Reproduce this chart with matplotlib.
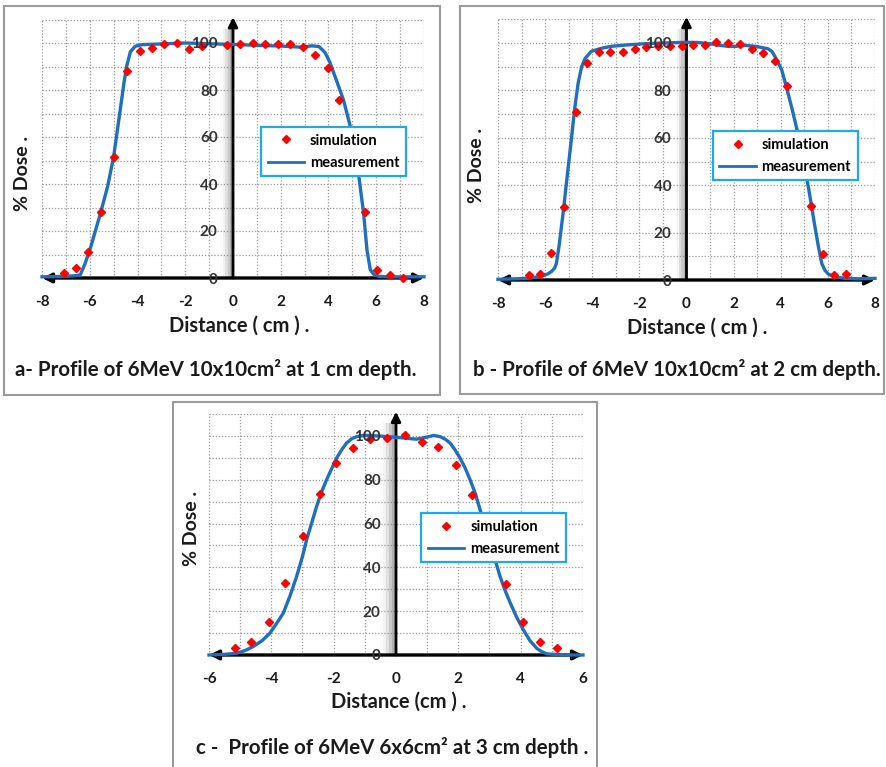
import matplotlib
matplotlib.use('Agg')
import matplotlib.pyplot as plt
from matplotlib.lines import Line2D
from matplotlib.patches import Rectangle
import numpy as np

plt.rcParams['font.family'] = ['Lato', 'DejaVu Sans']
plt.rcParams['axes.unicode_minus'] = False

# ---- panel a : 6MeV 10x10 at 1 cm ----
a_meas_x = [-8, -7, -6.6, -6.4, -6.2, -5.95, -5.55, -5.25, -5.0, -4.8, -4.57, -4.46, -4.3, -4.1, -3.8,
            -3.0, -2.0, -1.0, 0.0, 1.0, 2.0, 2.9, 3.3, 3.6, 3.85, 4.05, 4.3, 4.63, 4.85, 5.05, 5.2,
            5.35, 5.47, 5.61, 5.75, 5.9, 6.1, 6.5, 7.0, 8.0]
a_meas_y = [0.5, 0.7, 1.0, 1.3, 6, 13.5, 27.6, 39, 51.6, 66, 82.7, 89.8, 96.2, 98.6, 99.3,
            99.6, 100, 99.7, 99.4, 99.0, 98.7, 98.2, 98.8, 98.5, 96, 92, 85, 75.7, 67, 58.7, 49,
            37, 27.6, 12, 3.5, 1.5, 0.7, 0.5, 0.5, 0.5]
a_sim_x = [-7.09, -6.56, -6.08, -5.52, -4.97, -4.44, -3.91, -3.39, -2.87, -2.34, -1.83, -1.30,
           -0.25, 0.28, 0.82, 1.35, 1.88, 2.40, 2.93, 3.44, 3.96, 4.46, 5.54, 6.05, 6.58, 7.11]
a_sim_y = [2.1, 4.2, 11, 27.9, 51.6, 88.1, 96.5, 97.9, 99.4, 100, 97.5, 98.6,
           99.3, 99.7, 100, 99.7, 99.7, 99.4, 98.3, 94.8, 89.5, 75.7, 28, 3.3, 1.4, 0]

# ---- panel b : 6MeV 10x10 at 2 cm ----
b_meas_x = [-8, -7.3, -6.73, -6.2, -5.9, -5.74, -5.6, -5.52, -5.4, -5.24, -5.05, -4.89, -4.75, -4.6,
            -4.45, -4.3, -4.04, -3.6, -3.19, -2.5, -1.77, -1.0, 0, 0.5, 1.06, 1.4, 1.77, 2.1, 2.48,
            3.0, 3.47, 3.62, 3.75, 4.04, 4.25, 4.46, 4.7, 4.89, 5.17, 5.45, 5.6, 5.74, 5.88, 6.02,
            6.3, 6.73, 7.3, 8]
b_meas_y = [0.3, 0.5, 0.7, 1.5, 2.5, 3.5, 5, 7, 15, 28, 45, 59, 72, 83,
            90, 93.5, 96.5, 97.8, 98.6, 99.2, 99.7, 100, 100.3, 100.2, 99.6, 99, 98.6, 98.6, 99,
            98.5, 97.5, 96.5, 94.4, 88.7, 81, 73, 63, 53.5, 39.4, 22.5, 14, 7, 4, 2.5,
            1.3, 0.7, 0.5, 0.7]
b_sim_x = [-6.70, -6.20, -5.74, -5.21, -4.70, -4.21, -3.73, -3.23, -2.69, -2.20, -1.70, -1.20,
           -0.71, -0.21, 0.28, 0.78, 1.27, 1.77, 2.27, 2.76, 3.26, 3.75, 4.28, 5.27, 5.81, 6.26, 6.77]
b_sim_y = [2.1, 2.5, 11.5, 31, 71, 91.5, 96, 96, 96.2, 97.5, 98.2, 98.6,
           98.6, 98.6, 99.3, 99.3, 100.3, 100, 99.7, 97.5, 95.8, 92.5, 81.8, 31.3, 10.8, 2.1, 2.4]

# ---- panel c : 6MeV 6x6 at 3 cm ----
c_meas_x = [-6, -5.5, -5.12, -4.85, -4.59, -4.3, -4.05, -3.85, -3.62, -3.4, -3.19, -3.0, -2.87, -2.7,
            -2.55, -2.4, -2.23, -2.05, -1.91, -1.75, -1.59, -1.42, -1.26, -1.05, -0.84, -0.4, 0,
            0.35, 0.66, 0.95, 1.2, 1.41, 1.58, 1.74, 1.9, 2.06, 2.22, 2.38, 2.55, 2.70, 2.86, 3.02,
            3.18, 3.34, 3.5, 3.67, 3.88, 4.09, 4.3, 4.52, 4.68, 4.84, 5.2, 5.6, 6]
c_meas_y = [0, 0.3, 0.8, 2, 3.8, 6.5, 9.9, 14, 19, 27, 35.8, 45, 52.5, 60.5,
            67.7, 74, 79.9, 85.5, 89.8, 93.5, 96.7, 98.7, 99.7, 100.2, 100.2, 99.8, 99.4,
            98.9, 98.5, 99.3, 100.2, 99.7, 98.5, 96.7, 93.5, 89.8, 85.3, 79.9, 73.5, 66.2, 58.5, 51,
            43.5, 35.8, 29.5, 23.6, 17, 11.4, 6.5, 3, 1.5, 0.5, 0.2, 0, 0]
c_sim_x = [-5.18, -4.64, -4.08, -3.55, -2.98, -2.44, -1.91, -1.37, -0.84, -0.28, 0.29, 0.83,
           1.36, 1.92, 2.43, 3.54, 4.07, 4.61, 5.17]
c_sim_y = [3, 6.1, 15.2, 32.7, 54.3, 73.5, 87.8, 94.4, 98.5, 98.9, 100.5, 97,
           94.8, 86.5, 73.1, 32.3, 15.2, 6.1, 3]

captions = ["a- Profile of 6MeV 10x10cm\u00b2 at 1 cm depth.",
            "b - Profile of 6MeV 10x10cm\u00b2 at 2 cm depth.",
            "c -  Profile of 6MeV 6x6cm\u00b2 at 3 cm depth ."]
xlabels = ["Distance ( cm ) .", "Distance ( cm ) .", "Distance (cm ) ."]

W, H = 887, 767
BLUE = '#1f6fbf'
TXT = '#1a1a1a'


def fx(px):
    return px / W


def fy(py):
    return 1 - py / H


fig = plt.figure(figsize=(W / 100, H / 100), dpi=100)


def panel(box, xmax, mx, my, sx, sy, anchor, frame, ylab_pos, xlab_pos, cap_pos, caption, xlabel):
    left, top, right, bottom = box
    ax = fig.add_axes([fx(left), fy(bottom), (right - left) / W, (bottom - top) / H])
    ax.set_xlim(-xmax, xmax)
    ax.set_ylim(0, 110)
    for s in ax.spines.values():
        s.set_visible(False)

    # dotted grid
    for v in np.arange(-xmax, xmax + 1):
        ax.axvline(v, ls=(0, (1, 1.5)), color='#9a9a9a', lw=0.9, zorder=0.5)
    for v in np.arange(10, 111, 10):
        ax.axhline(v, ls=(0, (1, 1.5)), color='#9a9a9a', lw=0.9, zorder=0.5)

    # soft shadow left of the vertical axis
    for k, a in enumerate([0.10, 0.16, 0.24, 0.32]):
        w = 0.42 - k * 0.1
        ax.fill_betweenx([0, 106], -w, 0, color='#808080', alpha=a, lw=0, zorder=1)

    # axis arrows
    ax.annotate('', xy=(0, 111), xytext=(0, 0),
                arrowprops=dict(arrowstyle='-|>', lw=2, color='black', shrinkA=0, shrinkB=0,
                                mutation_scale=14), zorder=1.8, annotation_clip=False)
    ax.annotate('', xy=(xmax, 0), xytext=(-xmax, 0),
                arrowprops=dict(arrowstyle='<|-|>', lw=2.4, color='black', shrinkA=0, shrinkB=0,
                                mutation_scale=14), zorder=1.8, annotation_clip=False)

    ax.plot(mx, my, color=BLUE, lw=2.4, zorder=2, clip_on=False)
    ax.plot(sx, sy, 'D', color='#ff0000', ms=4, mec='#ff0000', ls='none', zorder=2.2, clip_on=False)

    ax.spines['left'].set_position(('data', 0))
    ax.set_yticks(np.arange(0, 101, 20))
    ax.set_xticks(np.arange(-xmax, xmax + 1, 2))
    ax.tick_params(axis='y', length=0, pad=11, labelsize=11, labelcolor='#333333')
    ax.tick_params(axis='x', length=0, pad=12, labelsize=11, labelcolor=TXT)
    for t in ax.get_xticklabels() + ax.get_yticklabels():
        t.set_fontweight('bold')
    ax.set_axisbelow(False)

    handles = [Line2D([], [], marker='D', color='#ff0000', ms=4, ls='none'),
               Line2D([], [], color=BLUE, lw=2)]
    leg = ax.legend(handles, ['simulation', 'measurement'], loc='upper right', bbox_to_anchor=anchor,
                    fancybox=False, framealpha=1, edgecolor='#1eaae8',
                    prop=dict(weight='bold', size=10.5), handlelength=2.5, borderpad=0.45,
                    labelspacing=0.55, handletextpad=0.4, borderaxespad=0)
    leg.get_frame().set_linewidth(1.6)
    leg.set_zorder(6)

    # frame and texts
    fl, ft, fr, fb = frame
    fig.patches.append(Rectangle((fx(fl), fy(fb)), (fr - fl) / W, (fb - ft) / H, fill=False,
                                 ec='#9a9a9a', lw=1.5, transform=fig.transFigure))
    fig.text(fx(ylab_pos[0]), fy(ylab_pos[1]), '% Dose .', rotation=90, ha='center', va='center',
             fontsize=14, fontweight='bold', color=TXT)
    fig.text(fx(xlab_pos[0]), fy(xlab_pos[1]), xlabel, ha='center', va='center',
             fontsize=14.5, fontweight='bold', color=TXT)
    fig.text(fx(cap_pos[0]), fy(cap_pos[1]), caption, ha='center', va='center',
             fontsize=14.8, fontweight='bold', color=TXT)
    return ax


panel((42, 19.5, 424, 278), 8, a_meas_x, a_meas_y, a_sim_x, a_sim_y, (0.953, 0.584),
      (4, 6, 440, 395), (23, 173), (239, 326), (216, 370), captions[0], xlabels[0])
panel((498, 19.3, 875, 280), 8, b_meas_x, b_meas_y, b_sim_x, b_sim_y, (0.954, 0.571),
      (460, 6, 884, 394), (477, 165), (697, 328), (677, 370), captions[1], xlabels[1])
panel((209, 414, 583, 655), 6, c_meas_x, c_meas_y, c_sim_x, c_sim_y, (0.955, 0.589),
      (173, 402, 597, 770), (192, 528), (399, 702), (392, 747), captions[2], xlabels[2])

fig.savefig('out.png', dpi=100)
